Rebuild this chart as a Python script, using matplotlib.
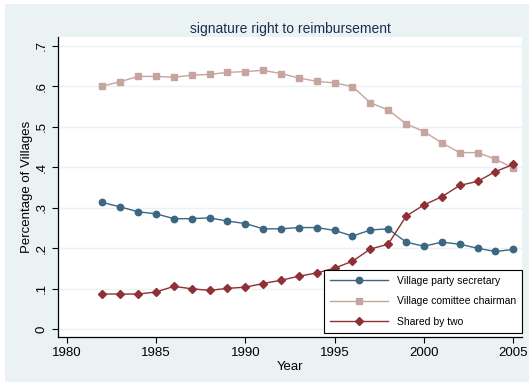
import matplotlib
matplotlib.use('Agg')
import matplotlib.pyplot as plt
from matplotlib.patches import Rectangle

years = list(range(1982, 2006))
party_secretary = [0.313, 0.302, 0.290, 0.285, 0.273, 0.273, 0.275, 0.267, 0.261, 0.248,
                   0.248, 0.251, 0.251, 0.244, 0.230, 0.245, 0.248, 0.215, 0.205, 0.215,
                   0.210, 0.200, 0.192, 0.197]
committee_chairman = [0.600, 0.611, 0.624, 0.624, 0.622, 0.627, 0.629, 0.634, 0.636, 0.639,
                      0.631, 0.620, 0.612, 0.608, 0.599, 0.559, 0.541, 0.507, 0.488, 0.460,
                      0.436, 0.436, 0.420, 0.398]
shared_by_two = [0.087, 0.087, 0.087, 0.092, 0.106, 0.100, 0.096, 0.101, 0.104, 0.113,
                 0.121, 0.131, 0.139, 0.151, 0.168, 0.198, 0.210, 0.279, 0.307, 0.327,
                 0.355, 0.365, 0.389, 0.407]

x_ticks = [1980, 1985, 1990, 1995, 2000, 2005]
y_ticks = [0, 0.1, 0.2, 0.3, 0.4, 0.5, 0.6, 0.7]
y_tick_labels = ['0', '.1', '.2', '.3', '.4', '.5', '.6', '.7']

plt.rcParams['font.family'] = ['Liberation Sans', 'DejaVu Sans']

bg = '#eaf2f3'
W, H = 529, 382

fig = plt.figure(figsize=(W / 100, H / 100), dpi=100, facecolor='white')
# light graph region, leaving a thin white strip on the top and left
fig.patches.append(Rectangle((5 / W, 0), 1, 378 / H, transform=fig.transFigure,
                             facecolor=bg, edgecolor='none', zorder=-10))

ax = fig.add_axes([58.3 / W, 45 / H, 463.7 / W, 300.3 / H])
ax.set_facecolor('white')

ax.plot(years, party_secretary, color='#3b6781', lw=1.0, marker='o', ms=4.6,
        label='Village party secretary')
ax.plot(years, committee_chairman, color='#c6a59e', lw=1.0, marker='s', ms=3.8,
        label='Village comittee chairman')
ax.plot(years, shared_by_two, color='#8f2f36', lw=1.0, marker='D', ms=3.6,
        label='Shared by two')

ax.set_xlim(1979.53, 2005.49)
ax.set_ylim(-0.019, 0.722)
ax.set_xticks(x_ticks)
ax.set_yticks(y_ticks)
ax.set_yticklabels(y_tick_labels, rotation=90, va='center')
ax.tick_params(axis='both', labelsize=9.5, length=4.5, width=0.8, color='black', pad=3)
ax.grid(axis='y', color=bg, lw=1.0)
ax.set_axisbelow(True)

for side in ['top', 'right']:
    ax.spines[side].set_visible(False)
for side in ['left', 'bottom']:
    ax.spines[side].set_linewidth(0.9)

ax.set_title('signature right to reimbursement', fontsize=10, color='#1e2c4f', pad=3)
ax.set_xlabel('Year', fontsize=9.5, labelpad=1)
ax.set_ylabel('Percentage of Villages', fontsize=9.5, labelpad=2)

leg = ax.legend(loc='lower right', bbox_to_anchor=(1.0, 0.013), fontsize=7.5,
                frameon=True, fancybox=False, edgecolor='black', framealpha=1,
                handlelength=5.6, borderpad=0.6, labelspacing=1.0, handletextpad=0.8,
                borderaxespad=0.0)
leg.get_frame().set_linewidth(0.8)

fig.savefig('out.png', dpi=100, facecolor=fig.get_facecolor())
